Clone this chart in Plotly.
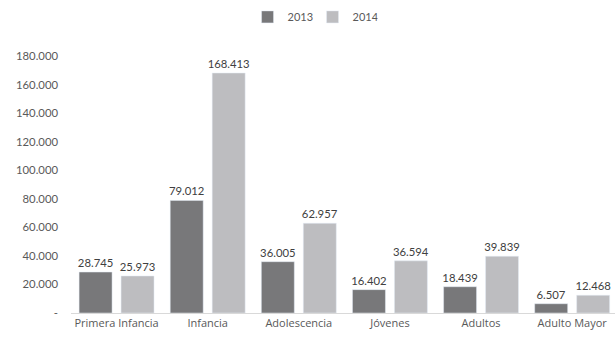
import plotly.graph_objects as go

categories = ["Primera Infancia", "Infancia", "Adolescencia", "Jóvenes", "Adultos", "Adulto Mayor"]
values_2013 = [28745, 79012, 36005, 16402, 18439, 6507]
values_2014 = [25973, 168413, 62957, 36594, 39839, 12468]
tick_vals = [0, 20000, 40000, 60000, 80000, 100000, 120000, 140000, 160000, 180000]
tick_text = ["-", "20.000", "40.000", "60.000", "80.000", "100.000", "120.000", "140.000", "160.000", "180.000"]

def fmt(v):
    return f"{v:,}".replace(",", ".")

NUMFONT = "Lato"
LBLFONT = "Open Sans"
fig = go.Figure()
for name, vals, col in [("2013", values_2013, "#78787a"), ("2014", values_2014, "#bdbdc0")]:
    fig.add_trace(go.Bar(name=name, x=categories, y=vals, marker_color=col,
                         text=[fmt(v) for v in vals], textposition="outside",
                         constraintext="none",
                         textfont=dict(family=NUMFONT, color="#404040", size=11.3), cliponaxis=False))

fig.update_layout(
    width=615, height=337,
    margin=dict(l=70.6, r=0, t=28.3, b=24, autoexpand=False),
    paper_bgcolor="white", plot_bgcolor="white",
    font=dict(family=NUMFONT, size=11.3, color="#595959"),
    barmode="group", bargap=0.079, bargroupgap=0.214,
    legend=dict(orientation="h", x=0.444, xanchor="center", y=1.039, yanchor="middle",
                font=dict(family=NUMFONT, size=11, color="#595959"), itemwidth=30, traceorder="normal",
                entrywidth=20, entrywidthmode="pixels"),
    showlegend=True,
)
fig.update_xaxes(range=[-0.5, 5.47], showline=True, linecolor="#d9d9d9", linewidth=1,
                 ticks="", showgrid=False, automargin=False,
                 tickfont=dict(family=LBLFONT, size=11, color="#595959"))
fig.update_yaxes(range=[0, 200000], tickvals=tick_vals, ticktext=tick_text, showgrid=False,
                 zeroline=False, showline=False, ticks="", ticklabelstandoff=12, automargin=False,
                 tickfont=dict(family=NUMFONT, size=11.3, color="#595959"))

fig.write_html("out.html", config={"displayModeBar": False},
               post_script="document.body.style.margin='0';document.body.style.overflow='hidden';")
